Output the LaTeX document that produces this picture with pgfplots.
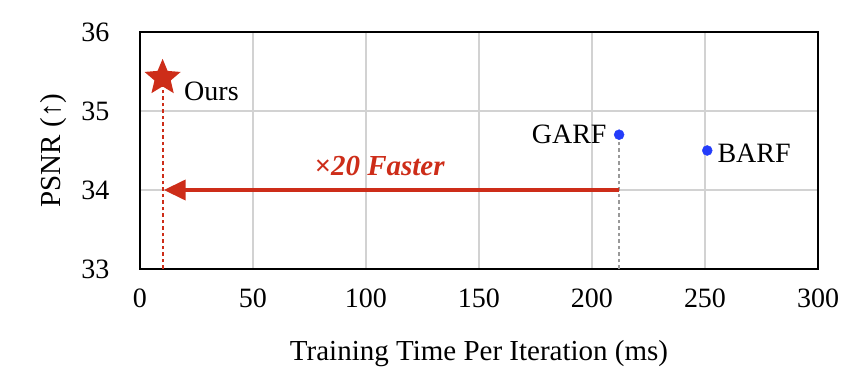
\documentclass[border=0pt]{standalone}
\usepackage{pgfplots}
\pgfplotsset{compat=1.18}
\usepackage{fontspec}
\setmainfont{Liberation Serif}
\usetikzlibrary{arrows.meta}
\definecolor{myred}{RGB}{205,45,25}
\definecolor{myblue}{RGB}{35,60,250}
\pgfdeclareplotmark{fstar}{%
  \pgfpathmoveto{\pgfqpointpolar{90}{\pgfplotmarksize}}%
  \pgfpathlineto{\pgfqpointpolar{126}{0.45\pgfplotmarksize}}%
  \pgfpathlineto{\pgfqpointpolar{162}{\pgfplotmarksize}}%
  \pgfpathlineto{\pgfqpointpolar{198}{0.45\pgfplotmarksize}}%
  \pgfpathlineto{\pgfqpointpolar{234}{\pgfplotmarksize}}%
  \pgfpathlineto{\pgfqpointpolar{270}{0.45\pgfplotmarksize}}%
  \pgfpathlineto{\pgfqpointpolar{306}{\pgfplotmarksize}}%
  \pgfpathlineto{\pgfqpointpolar{342}{0.45\pgfplotmarksize}}%
  \pgfpathlineto{\pgfqpointpolar{18}{\pgfplotmarksize}}%
  \pgfpathlineto{\pgfqpointpolar{54}{0.45\pgfplotmarksize}}%
  \pgfpathclose
  \pgfusepathqfill}
\begin{document}
\begin{tikzpicture}
\begin{axis}[
  at={(0,0)}, anchor=south west,
  scale only axis, width=678pt, height=237pt,
  xmin=0, xmax=300, ymin=33, ymax=36,
  xtick={0,50,100,150,200,250,300},
  ytick={33,34,35,36},
  grid=major,
  major grid style={gray!35, line width=1.2pt},
  major tick length=0pt,
  axis line style={black, line width=1.5pt},
  tick label style={font=\fontsize{28}{30}\selectfont},
  xticklabel style={yshift=-16pt},
  yticklabel style={xshift=-27pt},
  /pgf/number format/assume math mode=true,
  xlabel={Training Time Per Iteration (ms)},
  ylabel={PSNR (↑)},
  label style={font=\fontsize{29}{32}\selectfont},
  xlabel style={yshift=-26pt},
  ylabel style={yshift=8pt},
  clip=false,
]
\addplot[myred, line width=2pt, dash pattern=on 3.5pt off 3pt] coordinates {(10,33) (10,35.4)};
\addplot[gray!80, line width=2pt, dash pattern=on 3.5pt off 3pt] coordinates {(212,33) (212,34.7)};
\addplot[myred, line width=4pt, -{Triangle[length=22pt,width=20pt]}] coordinates {(212,34) (10.5,34)};
\addplot[only marks, mark=fstar, mark size=19pt, color=myred] coordinates {(10,35.42)};
\addplot[only marks, mark=*, mark size=5pt, color=myblue] coordinates {(212,34.7) (251,34.5)};
\node[anchor=west, font=\fontsize{28}{32}\selectfont] at (axis cs:18,35.25) {Ours};
\node[anchor=east, font=\fontsize{28}{32}\selectfont] at (axis cs:208,34.7) {GARF};
\node[anchor=west, font=\fontsize{28}{32}\selectfont] at (axis cs:254,34.47) {BARF};
\node[font=\fontsize{29}{32}\selectfont\bfseries\itshape, text=myred] at (axis cs:106,34.3) {×20 Faster};
\end{axis}
\useasboundingbox (-140pt,-113pt) rectangle (715pt,269pt);
\end{tikzpicture}
\end{document}
